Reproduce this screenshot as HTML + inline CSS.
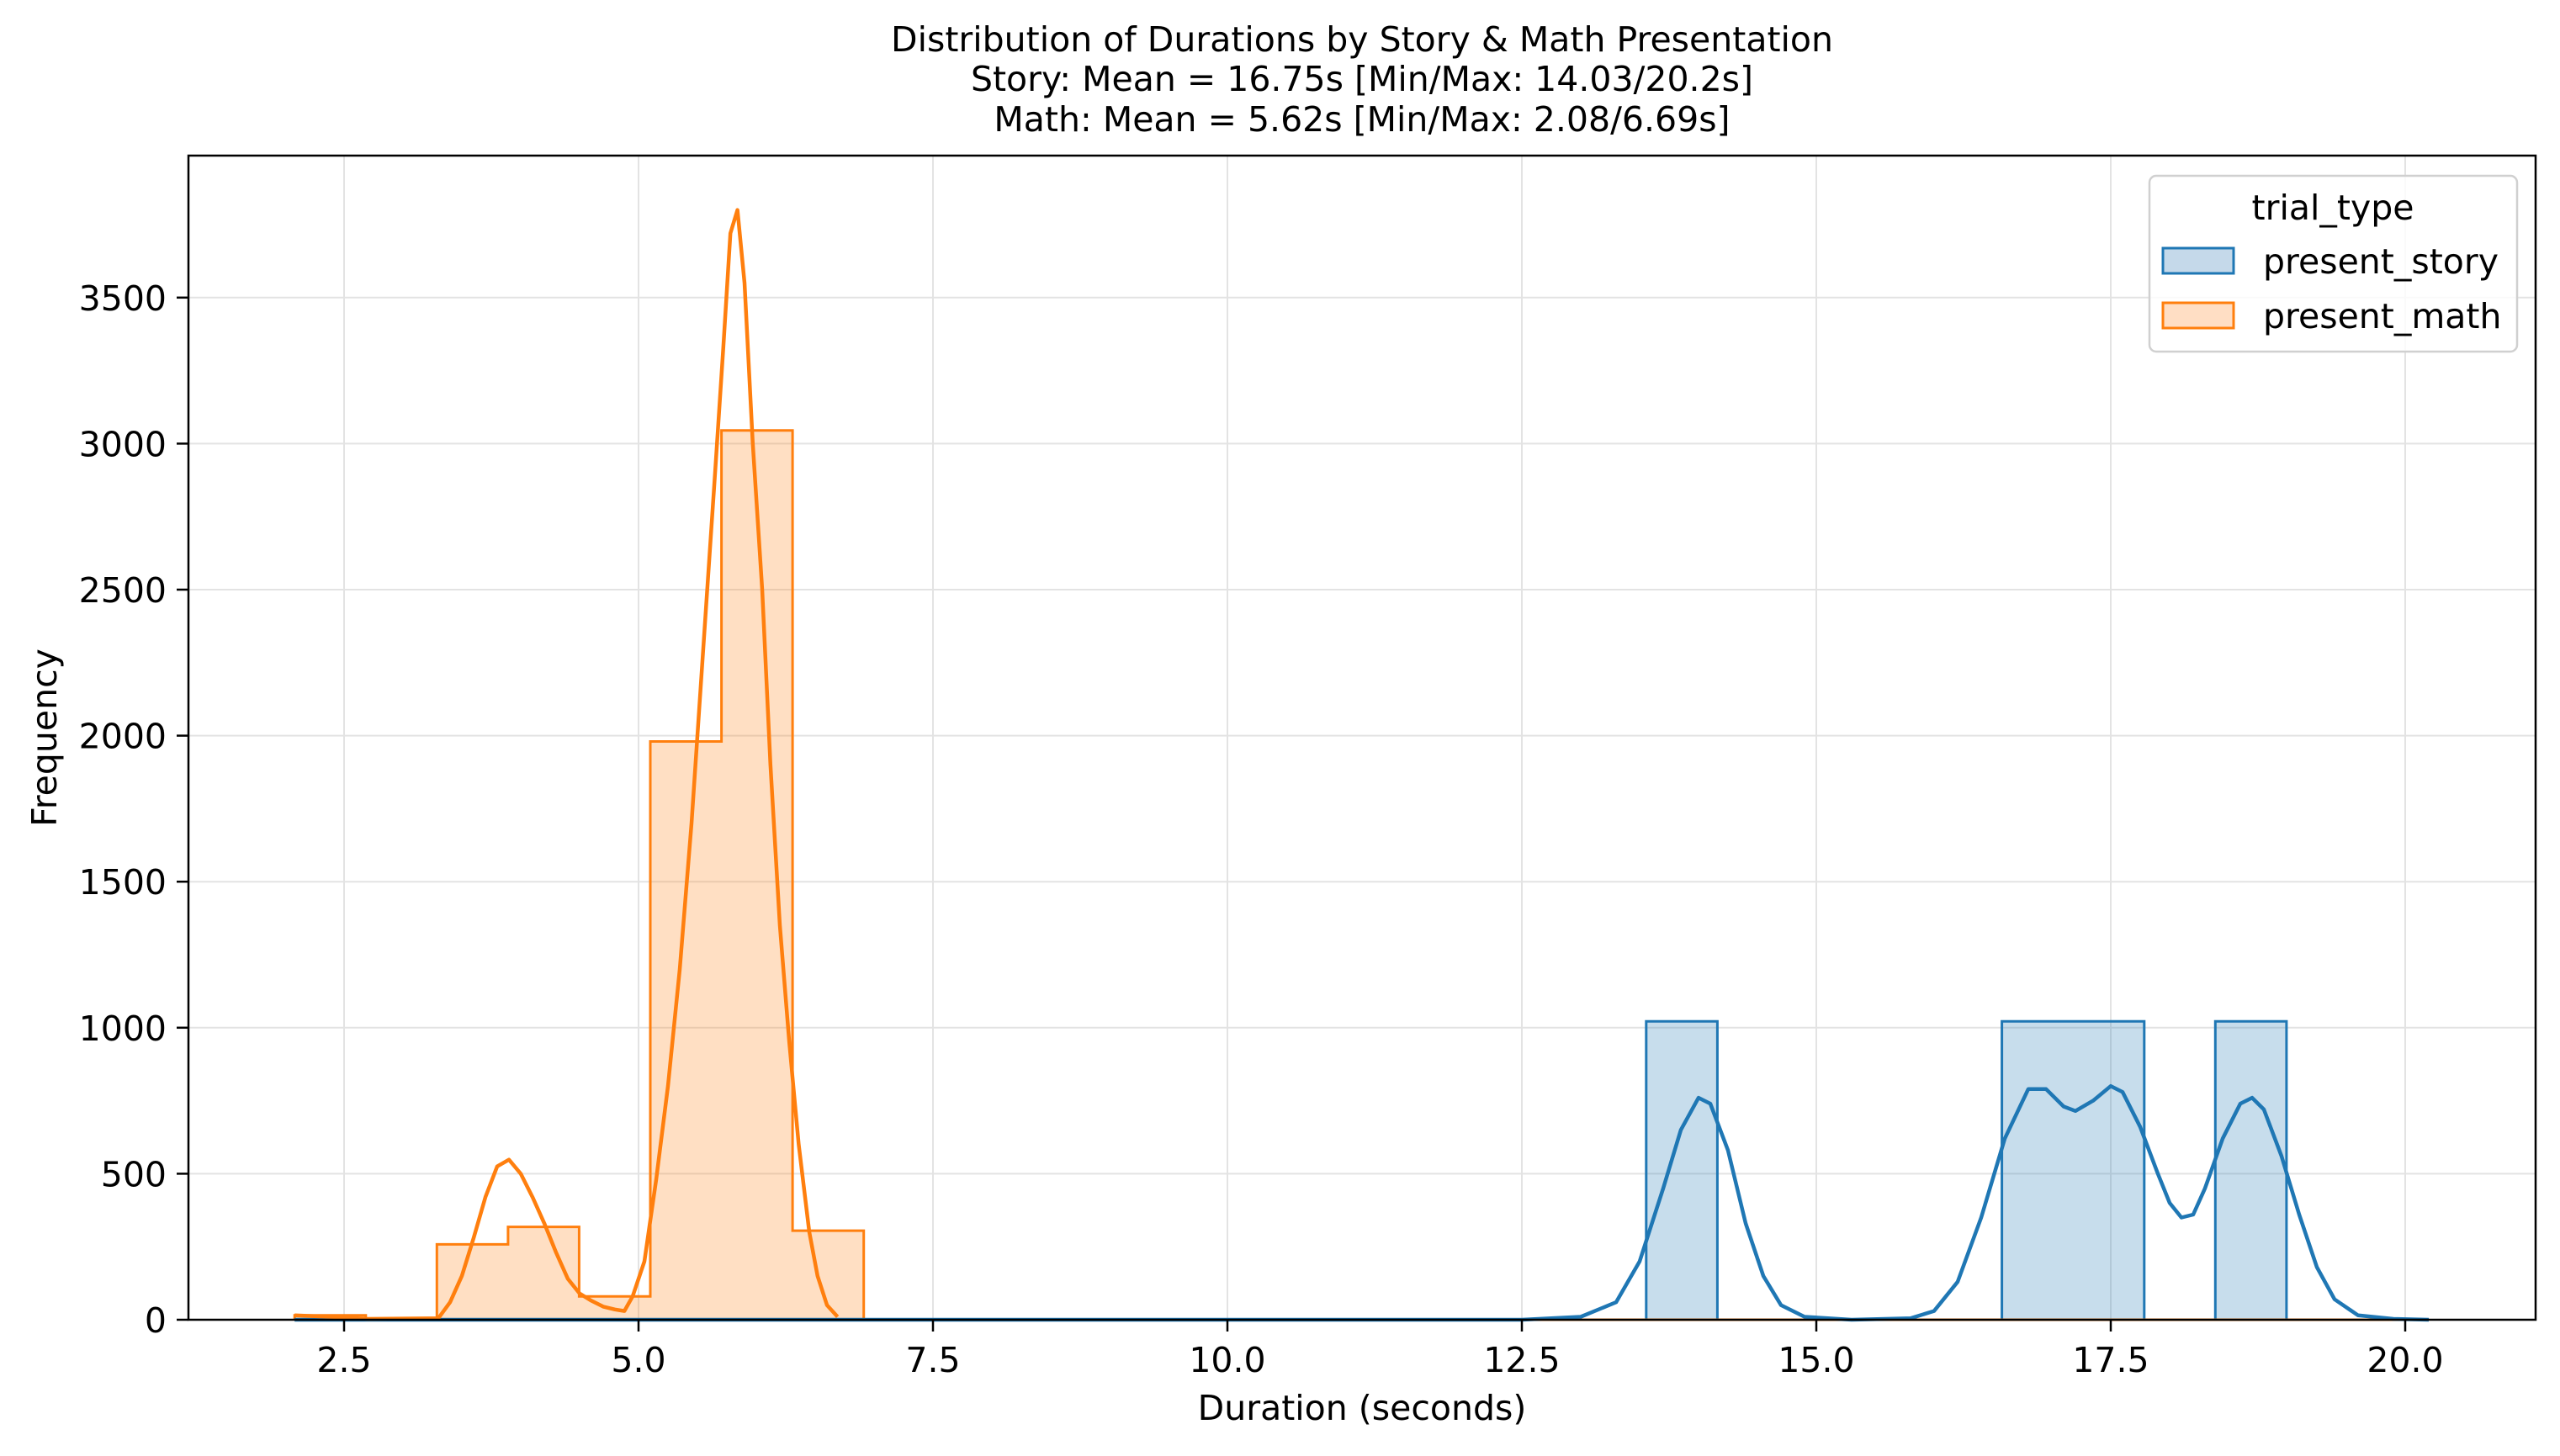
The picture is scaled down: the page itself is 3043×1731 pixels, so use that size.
<!DOCTYPE html>
<html><head><meta charset="utf-8"><style>
html,body{margin:0;padding:0;background:#fff;}
svg{display:block;font-family:"DejaVu Sans","Liberation Sans",sans-serif;}
</style></head><body>
<svg id="chart" width="3043" height="1731" viewBox="0 0 3043 1731" xmlns="http://www.w3.org/2000/svg">
<rect x="0" y="0" width="3043" height="1731" fill="#fff"/>
<g font-size="41" text-anchor="middle" fill="#000">
<text x="1619" y="61">Distribution of Durations by Story &amp; Math Presentation</text>
<text x="1619" y="108">Story: Mean = 16.75s [Min/Max: 14.03/20.2s]</text>
<text x="1619" y="156">Math: Mean = 5.62s [Min/Max: 2.08/6.69s]</text>
</g>
<g id="grid"></g>
<g id="bars"></g>
<g id="kde"></g>
<rect x="224" y="185" width="2790" height="1384" fill="none" stroke="#000" stroke-width="2.5"/>
<g id="xticks"></g>
<g id="yticks"></g>
<text x="1619" y="1688" font-size="41" text-anchor="middle">Duration (seconds)</text>
<text x="0" y="0" font-size="41" text-anchor="middle" transform="translate(67,877) rotate(-90)">Frequency</text>
<g>
<rect x="2555" y="209" width="437" height="209" rx="8" fill="#fff" fill-opacity="0.8" stroke="#d0d0d0" stroke-width="2.5"/>
<text x="2773" y="261" font-size="41" text-anchor="middle">trial_type</text>
<rect x="2571" y="295" width="84" height="30" fill="#c5d9ea" stroke="#1f77b4" stroke-width="3"/>
<text x="2690" y="325" font-size="41">present_story</text>
<rect x="2571" y="360" width="84" height="30" fill="#ffdec4" stroke="#ff7f0e" stroke-width="3"/>
<text x="2690" y="390" font-size="41">present_math</text>
</g>
</svg>
<script>
const binStart = 2.08;
const binWidth = 0.604;
const mathCounts = [15,0,258,318,80,1980,3045,305,0,0,0,0,0,0,0,0,0,0,0,0,0,0,0,0,0,0,0,0,0,0];
const storyCounts = [0,0,0,0,0,0,0,0,0,0,0,0,0,0,0,0,0,0,0,1022,0,0,0,0,1022,1022,0,1022,0,0];
const mathKdeX = [2.08,2.5,2.7,3.3,3.4,3.5,3.6,3.7,3.8,3.9,4.0,4.1,4.2,4.3,4.4,4.5,4.6,4.7,4.8,4.88,4.95,5.05,5.15,5.25,5.35,5.45,5.55,5.65,5.72,5.78,5.84,5.9,5.97,6.05,6.12,6.2,6.28,6.36,6.45,6.52,6.6,6.69];
const mathKdeY = [15,8,3,5,60,150,280,420,525,548,500,420,330,230,140,90,65,45,35,30,80,200,480,800,1200,1700,2300,2900,3330,3720,3800,3550,3000,2500,1900,1350,950,600,300,150,50,10];
const storyKdeX = [2.08,12.5,13.0,13.3,13.5,13.7,13.85,14.0,14.1,14.25,14.4,14.55,14.7,14.9,15.3,15.8,16.0,16.2,16.4,16.6,16.8,16.95,17.1,17.2,17.35,17.5,17.6,17.75,17.9,18.0,18.1,18.2,18.3,18.45,18.6,18.7,18.8,18.95,19.1,19.25,19.4,19.6,19.9,20.2];
const storyKdeY = [0,0,10,60,200,450,650,760,740,580,330,150,50,10,0,5,30,130,350,620,790,790,730,715,750,800,780,660,500,400,350,360,450,620,740,760,720,560,360,180,70,15,3,0];
const xTicks = [2.5,5.0,7.5,10.0,12.5,15.0,17.5,20.0];
const xTickLabels = ["2.5","5.0","7.5","10.0","12.5","15.0","17.5","20.0"];
const yTicks = [0,500,1000,1500,2000,2500,3000,3500];

const NS = "http://www.w3.org/2000/svg";
function X(v){return 409 + (v-2.5)*140;}
function Y(v){return 1569 - v*0.3472;}
function mk(tag, attrs, parent){const e=document.createElementNS(NS,tag);for(const k in attrs)e.setAttribute(k,attrs[k]);parent.appendChild(e);return e;}

const grid=document.getElementById('grid');
const xt=document.getElementById('xticks');
const yt=document.getElementById('yticks');
xTicks.forEach((t,i)=>{
  const g=mk('line',{x1:X(t),x2:X(t),y1:185,y2:1569,stroke:'#e3e3e3','stroke-width':2},grid);
  
  
  const tk=mk('line',{x1:X(t),x2:X(t),y1:1569,y2:1583,stroke:'#000','stroke-width':2.5},xt);
  
  
  const tl=mk('text',{x:X(t),y:1631,'font-size':41,'text-anchor':'middle'},xt);
  tl.textContent=xTickLabels[i];
  
  
});
yTicks.forEach(t=>{
  const g=mk('line',{x1:224,x2:3014,y1:Y(t),y2:Y(t),stroke:'#e3e3e3','stroke-width':2},grid);
  
  
  const tk=mk('line',{x1:210,x2:224,y1:Y(t),y2:Y(t),stroke:'#000','stroke-width':2.5},yt);
  
  
  const tl=mk('text',{x:198,y:Y(t)+15,'font-size':41,'text-anchor':'end'},yt);
  tl.textContent=String(t);
  
  
});

const bars=document.getElementById('bars');
function drawStep(counts, fill, stroke, name){
  let d='M'+X(binStart).toFixed(1)+','+Y(0).toFixed(1);
  counts.forEach((c,i)=>{
    const x0=X(binStart+i*binWidth), x1=X(binStart+(i+1)*binWidth);
    d+=' L'+x0.toFixed(1)+','+Y(c).toFixed(1)+' L'+x1.toFixed(1)+','+Y(c).toFixed(1);
  });
  d+=' L'+X(binStart+counts.length*binWidth).toFixed(1)+','+Y(0).toFixed(1);
  const f=mk('path',{d:d+' Z',fill:fill,stroke:'none'},bars);
  
  
  const p=mk('path',{d:d,fill:'none',stroke:stroke,'stroke-width':3,'stroke-linejoin':'miter'},bars);
  
  
}
drawStep(storyCounts,'rgba(31,119,180,0.25)','#1f77b4','story-hist');
drawStep(mathCounts,'rgba(255,127,14,0.25)','#ff7f0e','math-hist');

const kde=document.getElementById('kde');
function drawLine(xs, ys, color, name){
  const d=xs.map((x,i)=>(i?'L':'M')+X(x).toFixed(1)+','+Y(ys[i]).toFixed(1)).join(' ');
  const p=mk('path',{d:d,fill:'none',stroke:color,'stroke-width':4.5,'stroke-linejoin':'round'},kde);
  
  
}
drawLine(storyKdeX,storyKdeY,'#1f77b4','story-kde-line');
drawLine(mathKdeX,mathKdeY,'#ff7f0e','math-kde-line');
</script>
</body></html>
